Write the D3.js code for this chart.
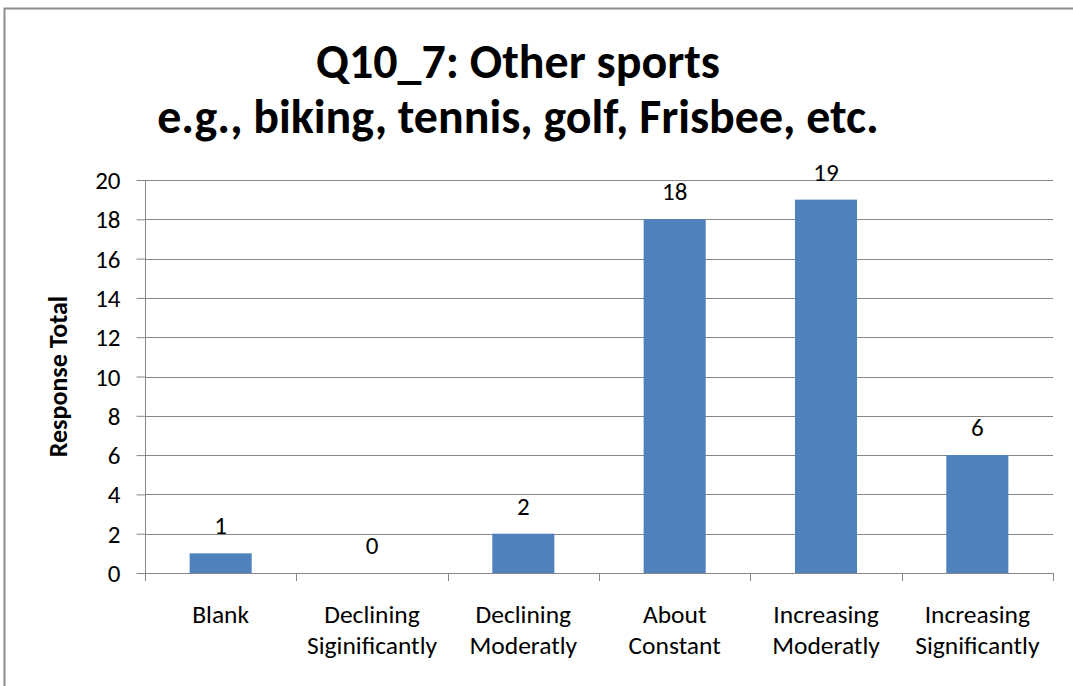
<!DOCTYPE html>
<html><head><meta charset="utf-8">
<script src="https://cdn.jsdelivr.net/npm/d3@7"></script>
<style>html,body{margin:0;padding:0;background:#fff;}svg{display:block;}</style>
</head><body>
<script>
const categories = [["Blank"],["Declining","Siginificantly"],["Declining","Moderatly"],["About","Constant"],["Increasing","Moderatly"],["Increasing","Significantly"]];
const categoryKeys = ["Blank","Declining Siginificantly","Declining Moderatly","About Constant","Increasing Moderatly","Increasing Significantly"];
const values = [1,0,2,18,19,6];
const yTicks = [0,2,4,6,8,10,12,14,16,18,20];
const titleLines = ["Q10_7: Other sports","e.g., biking, tennis, golf, Frisbee, etc."];
const yLabel = "Response Total";

const W=1073,H=686;
const svg=d3.select("body").append("svg").attr("width",W).attr("height",H);
svg.append("rect").attr("x",4.5).attr("y",8.5).attr("width",W+10).attr("height",H+10)
  .attr("fill","#fff").attr("stroke","#8c8c8c").attr("stroke-width",2);

const m={l:145,r:1053,t:180,b:573};
const x=d3.scaleBand().domain(categoryKeys).range([m.l,m.r]).paddingInner(0.59).paddingOuter(0.295);
const xb=d3.scaleBand().domain(categoryKeys).range([m.l,m.r]);
const y=d3.scaleLinear().domain([0,20]).range([m.b,m.t]);
const font="Carlito, Calibri, 'Liberation Sans', Arial, sans-serif";
const gray="#868686";

// gridlines
svg.append("g").selectAll("line").data(yTicks).join("line")
  .attr("x1",m.l).attr("x2",m.r).attr("y1",d=>Math.round(y(d))+0.5).attr("y2",d=>Math.round(y(d))+0.5)
  .attr("stroke",gray).attr("stroke-width",1);

// y axis
const ya=svg.append("g").attr("transform",`translate(${m.l+0.5},0)`)
  .call(d3.axisLeft(y).tickValues(yTicks).tickSize(9).tickPadding(16));
ya.select(".domain").attr("stroke",gray).attr("d",`M0,${m.t}V${m.b+7}`);
ya.selectAll(".tick line").attr("stroke",gray);
ya.selectAll(".tick text").attr("font-family",font).attr("font-size",25).attr("fill","#000").attr("dy","0.34em");

// bars
svg.append("g").selectAll("rect").data(values).join("rect")
  .attr("x",(d,i)=>x(categoryKeys[i])).attr("width",x.bandwidth())
  .attr("y",d=>y(d)).attr("height",d=>y(0)-y(d)).attr("fill","#4f81bd");

// x axis
const boundaries=categoryKeys.map(k=>xb(k)).concat([m.r]);
svg.append("line").attr("x1",m.l).attr("x2",m.r).attr("y1",m.b+0.5).attr("y2",m.b+0.5).attr("stroke",gray);
svg.append("g").selectAll("line").data(boundaries).join("line")
  .attr("x1",d=>Math.round(d)+0.5).attr("x2",d=>Math.round(d)+0.5).attr("y1",m.b).attr("y2",m.b+8).attr("stroke",gray);

const xl=svg.append("g").selectAll("text").data(categories).join("text")
  .attr("x",(d,i)=>xb(categoryKeys[i])+xb.bandwidth()/2).attr("y",623)
  .attr("text-anchor","middle").attr("font-family",font).attr("font-size",25.5).attr("fill","#000");
xl.selectAll("tspan").data(d=>d).join("tspan")
  .attr("x",function(){return this.parentNode.getAttribute("x");})
  .attr("dy",(d,i)=>i?31:0).text(d=>d);

// data labels
svg.append("g").selectAll("text").data(values).join("text")
  .attr("x",(d,i)=>x(categoryKeys[i])+x.bandwidth()/2).attr("y",d=>y(d)-19)
  .attr("text-anchor","middle").attr("font-family",font).attr("font-size",25).attr("fill","#000")
  .text(d=>d);

// y label
svg.append("text").attr("transform",`translate(67,${(m.t+m.b)/2}) rotate(-90)`)
  .attr("text-anchor","middle").attr("font-family",font).attr("font-size",26).attr("font-weight","bold")
  .text(yLabel);

// title
const tw=[404,722];
titleLines.forEach((t,i)=>{
  const el=svg.append("text").attr("x",518).attr("y",i?133:78).attr("text-anchor","middle")
    .attr("font-family","Carlito, Calibri, 'Liberation Sans Narrow', 'Liberation Sans', Arial, sans-serif")
    .attr("font-weight","bold").attr("font-size",40).text(t);
  const w=el.node().getComputedTextLength();
  el.attr("font-size",40*tw[i]/w);
});
</script>
</body></html>
